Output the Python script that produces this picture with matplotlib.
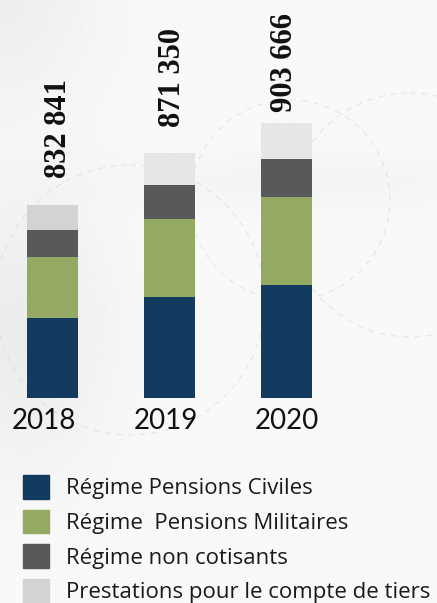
import matplotlib.pyplot as plt
from matplotlib.patches import Patch, Circle
import numpy as np

# données (hauteurs relatives)
annees = ["2018", "2019", "2020"]
totaux = ["832 841", "871 350", "903 666"]
civiles = [80, 101, 113]
militaires = [61, 78, 88]
non_cotisants = [27, 34, 38]
tiers = [25, 32, 36]

noms = ["Régime Pensions Civiles", "Régime  Pensions Militaires",
        "Régime non cotisants", "Prestations pour le compte de tiers"]
couleurs = ["#133a5f", "#94aa63", "#58595b", "#d2d3d5"]
couleurs_tiers = ["#d2d3d5", "#e6e6e6", "#e6e6e6"]

W, H = 437, 603
fig = plt.figure(figsize=(W / 100, H / 100), dpi=100)
fig.patch.set_facecolor("#f8f8f7")

# fond : léger dégradé gris + cercles pointillés décoratifs
fond = fig.add_axes([0, 0, 1, 1], zorder=0)
gx, gy = np.meshgrid(np.linspace(0, 1, 200), np.linspace(0, 1, 280))
img = 0.975 - 0.05 * np.exp(-((gx - 0.05) ** 2 / 0.04 + (gy - 0.55) ** 2 / 0.05)) \
      - 0.04 * np.exp(-((gx - 0.0) ** 2 / 0.05 + (gy - 0.0) ** 2 / 0.03)) \
      - 0.02 * np.exp(-((gx - 0.7) ** 2 / 0.2 + (gy - 0.3) ** 2 / 0.002))
fond.imshow(img, cmap="gray", vmin=0, vmax=1, extent=[0, W, H, 0], aspect="auto")
for (cx, cy, r) in [(290, 200, 100), (130, 300, 135), (410, 215, 122)]:
    fond.add_patch(Circle((cx, cy), r, fill=False, ls=(0, (6, 6)), lw=0.7,
                          ec="#cdd6e3", alpha=0.6))
fond.set_xlim(0, W)
fond.set_ylim(H, 0)
fond.axis("off")

# graphique
bas = 398
ax = fig.add_axes([0, (H - bas) / H, 1, bas / H], zorder=1)
ax.patch.set_alpha(0)
x = np.arange(len(annees))
largeur = 51 / 117
series = [civiles, militaires, non_cotisants]
cumul = np.zeros(len(annees))
for vals, c in zip(series, couleurs[:3]):
    ax.bar(x, vals, largeur, bottom=cumul, color=c)
    cumul += np.array(vals)
ax.bar(x, tiers, largeur, bottom=cumul, color=couleurs_tiers)
cumul += np.array(tiers)

decal = [(4.5, 19.5), (2.5, 19), (-1.5, 8)]
for i, t in enumerate(totaux):
    ax.annotate(t, (x[i], cumul[i]), xytext=decal[i], textcoords="offset points",
                rotation=90, ha="center", va="bottom", fontsize=22,
                fontweight="bold", family="Liberation Serif", color="#111111")

ax.set_xlim(-52.5 / 117, (W - 52.5) / 117)
ax.set_ylim(0, bas)
ax.set_xticks(x - np.array([0.07, 0.03, 0.0]))
ax.set_xticklabels(annees, fontsize=20, family="Lato", color="#111111")
ax.tick_params(axis="x", length=0, pad=7.5)
ax.set_yticks([])
for s in ax.spines.values():
    s.set_visible(False)

# légende
poignees = [Patch(color=c) for c in couleurs]
fig.legend(poignees, noms, loc="upper left", bbox_to_anchor=(23 / W, (H - 475) / H),
           frameon=False, borderpad=0, borderaxespad=0,
           prop={"family": "Open Sans", "size": 16}, handlelength=1.17, handleheight=1.26,
           labelspacing=0.465, handletextpad=0.78, labelcolor="#1a1a1a")

fig.savefig("out.png", dpi=100, facecolor=fig.get_facecolor())
